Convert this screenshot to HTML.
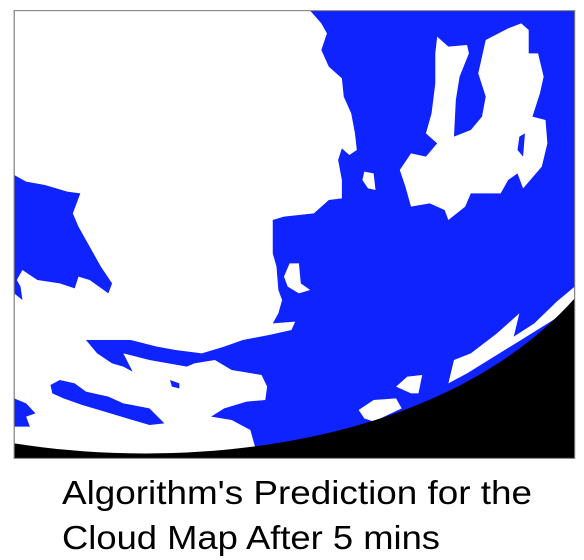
<!DOCTYPE html>
<html><head><meta charset="utf-8"><style>
html,body{margin:0;padding:0;background:#fff;width:584px;height:560px;overflow:hidden}
svg{display:block;position:absolute;left:0;top:0}
</style></head><body>
<svg width="584" height="470" viewBox="0 0 1563 1410" preserveAspectRatio="none" style="position:absolute;left:0;top:0">
  <rect x="38" y="32" width="1500" height="1343" fill="#0F23FF"/>
  <polygon fill="#fff" points="38,32 830,32 860,70 875,100 860,150 880,200 915,235 920,290 940,340 950,400 955,450 935,465 915,445 905,480 915,540 915,595 880,600 840,640 760,650 730,660 730,760 740,800 745,870 755,900 745,940 730,970 790,965 780,990 720,1005 650,1020 600,1040 540,1060 470,1050 420,1040 350,1020 290,1020 230,1020 260,1060 300,1090 330,1100 355,1115 330,1060 400,1080 500,1100 520,1090 575,1080 620,1110 700,1125 715,1160 710,1200 660,1205 600,1225 565,1250 620,1260 670,1290 690,1370 38,1370 38,1280 80,1280 70,1250 95,1240 70,1210 38,1195 38,880 60,900 55,860 45,840 60,810 100,840 160,850 200,865 210,830 240,840 290,880 300,850 270,800 240,740 210,680 195,640 215,580 180,575 120,555 70,545 38,525"/>
  <polygon fill="#0F23FF" points="135,1155 160,1140 200,1150 230,1175 290,1190 330,1210 400,1225 440,1270 400,1275 340,1255 280,1235 220,1215 170,1195 140,1180"/>
  <polygon fill="#0F23FF" points="455,1140 480,1150 480,1165 460,1160"/>
  <polygon fill="#fff" points="1170,110 1200,140 1250,135 1255,160 1230,230 1220,300 1215,410 1260,390 1290,350 1300,290 1280,220 1300,120 1360,85 1395,70 1415,90 1415,160 1440,160 1455,230 1445,280 1425,350 1460,360 1465,430 1450,500 1400,565 1385,520 1360,540 1340,580 1260,580 1245,620 1200,660 1190,630 1150,610 1100,620 1085,560 1070,510 1100,460 1140,470 1170,430 1140,400 1155,340 1165,250 1165,160"/>
  <polygon fill="#0F23FF" points="1390,410 1405,400 1400,470 1385,450"/>
  <polygon fill="#fff" points="975,515 1000,520 1005,570 985,565 970,540"/>
  <polygon fill="#fff" points="775,790 800,790 805,850 830,870 800,880 770,860 760,830"/>
  <polygon fill="#fff" points="1200,1150 1215,1080 1260,1060 1330,1000 1390,940 1375,1010 1430,970 1490,905 1538,860 1538,920 1380,1030 1250,1120"/>
  <polygon fill="#fff" points="1060,1160 1090,1130 1130,1125 1120,1180 1100,1180"/>
  <polygon fill="#fff" points="960,1230 1000,1200 1060,1195 1075,1225 1000,1265 975,1255"/>
  <path fill="#000" d="M38,1330 C550,1420 1200,1320 1538,895 L1538,1375 L38,1375 Z"/>
  <rect x="38" y="32" width="1500" height="1343" fill="none" stroke="#777" stroke-width="3"/>
</svg>
<svg width="584" height="90" viewBox="0 0 584 90" style="position:absolute;left:0;top:470px">
  <text x="62" y="34" font-family="Liberation Sans, sans-serif" font-size="33" fill="#000" textLength="470" lengthAdjust="spacingAndGlyphs">Algorithm's Prediction for the</text>
  <text x="62" y="79" font-family="Liberation Sans, sans-serif" font-size="33" fill="#000" textLength="378" lengthAdjust="spacingAndGlyphs">Cloud Map After 5 mins</text>
</svg>
</body></html>
